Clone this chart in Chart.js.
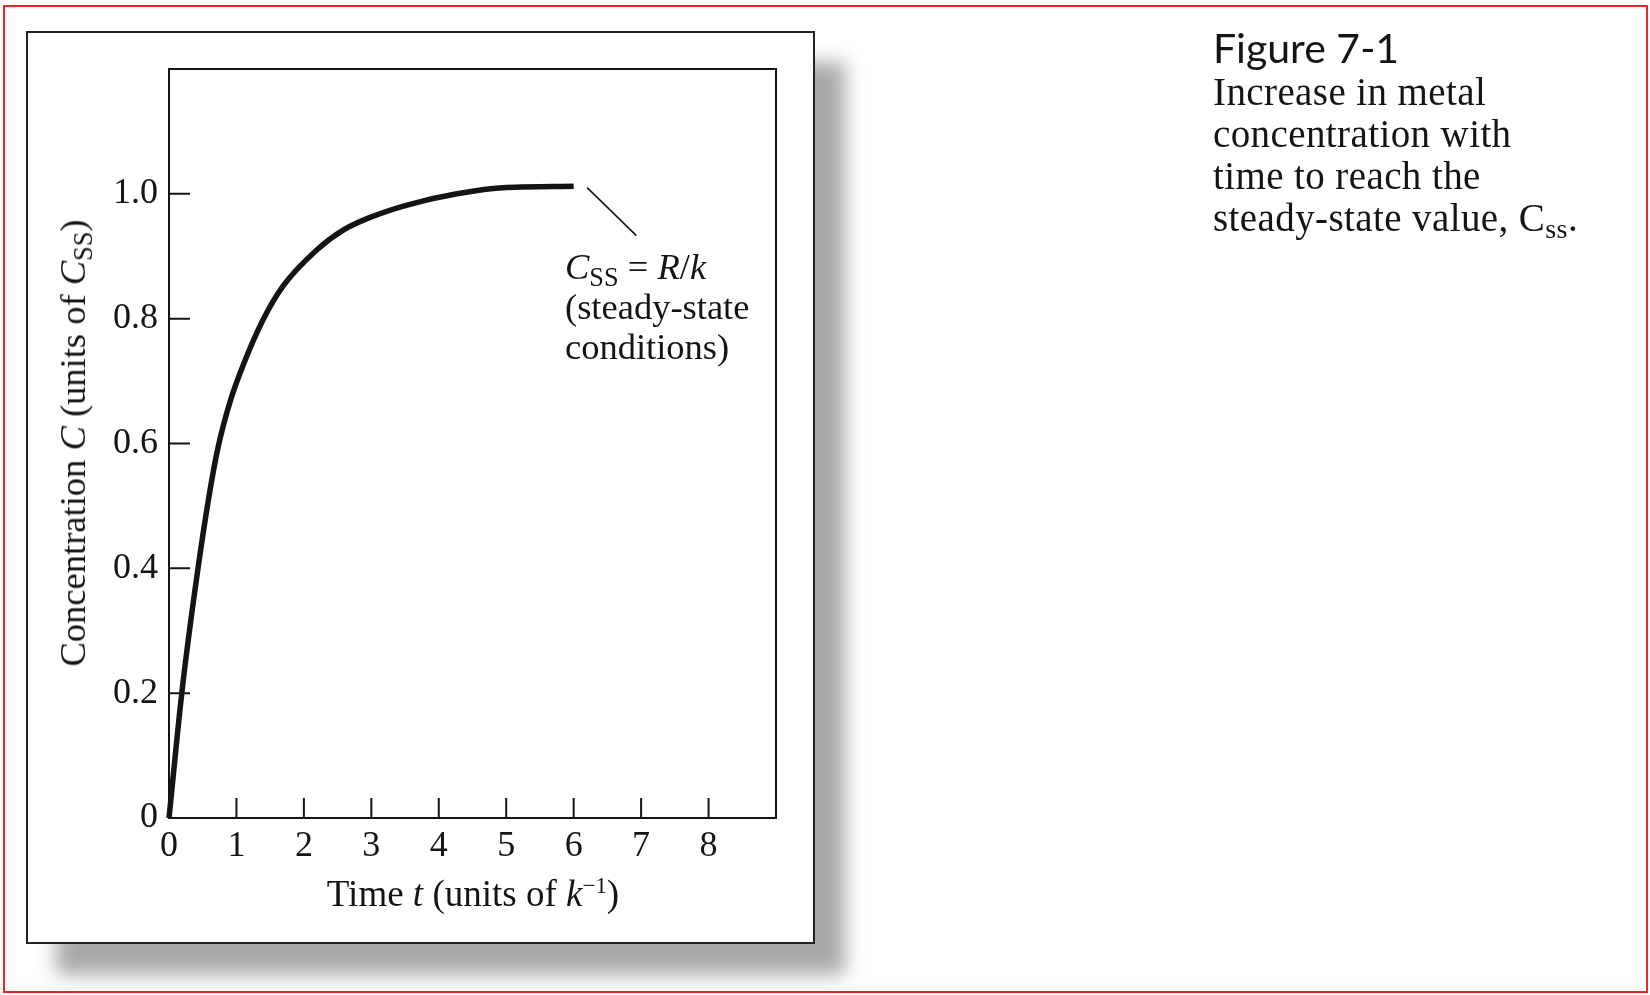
<!DOCTYPE html>
<html>
<head>
<meta charset="utf-8">
<script src="https://cdn.jsdelivr.net/npm/chart.js@4/dist/chart.umd.min.js"></script>
<style>
    body { margin: 0; background: #fff; width: 1650px; height: 995px; overflow: hidden; position: relative; }
    .frame { position: absolute; left: 3px; top: 5px; width: 1641px; height: 984px; border: 2px solid #e8262a; }
    .card { position: absolute; left: 26px; top: 31px; width: 785px; height: 909px; border: 2px solid #222; background: #fff;
            box-shadow: 30px 31px 18px rgba(0, 0, 0, 0.34); }
    #plot { position: absolute; left: 0; top: 0; }
    .serif { position: absolute; font-family: "Liberation Serif", "DejaVu Serif", serif; color: #141414; white-space: nowrap; }
    .ytitle { font-size: 36.5px; line-height: 40px; left: 73px; top: 443px; transform: translate(-50%, -50%) rotate(-90deg); }
    .xtitle { font-size: 37px; line-height: 40px; left: 473px; top: 874px; transform: translateX(-50%); }
    .note { font-size: 36.5px; line-height: 40px; left: 565px; top: 247px; }
    sub { font-size: 0.72em; vertical-align: -0.25em; line-height: 0; }
    sup { font-size: 0.62em; vertical-align: 0.55em; line-height: 0; }
    .fig { position: absolute; left: 1213px; top: 27px; font-family: Lato, "Open Sans", sans-serif; font-size: 41px; line-height: 41px; color: #141414; }
    .caption { font-size: 39px; line-height: 42px; left: 1213px; top: 71px; letter-spacing: 0.4px; }
</style>
</head>
<body>
<div class="frame"></div>
<div class="card"></div>
<canvas id="plot" width="1650" height="995"></canvas>

<div class="serif ytitle">Concentration <i>C</i> (units of <i>C</i><sub>SS</sub>)</div>
<div class="serif xtitle">Time <i>t</i> (units of <i>k</i><sup>−1</sup>)</div>
<div class="serif note"><i>C</i><sub>SS</sub> = <i>R</i>/<i>k</i><br>(steady-state<br>conditions)</div>

<div class="fig">Figure 7-1</div>
<div class="serif caption">Increase in metal<br>concentration with<br>time to reach the<br>steady-state value, C<sub>ss</sub>.</div>

<script>
// curve (t in units of 1/k, C in units of Css)
let timeValues = [0, 0.2, 0.43, 0.6, 0.73, 0.9, 1.08, 1.38, 1.69, 2.19, 2.6, 3.0, 3.53, 4.27, 5.0, 6.0];
let concValues = [0, 0.21, 0.40, 0.52, 0.595, 0.665, 0.72, 0.795, 0.852, 0.91, 0.943, 0.963, 0.982, 1.0, 1.01, 1.012];

// leader line of the Css note
let leaderT = [6.2, 6.93];
let leaderC = [1.01, 0.933];

let xTickValues = [0, 1, 2, 3, 4, 5, 6, 7, 8];
let yTickValues = [0, 0.2, 0.4, 0.6, 0.8, 1.0];
let yTickLabels = ['0', '0.2', '0.4', '0.6', '0.8', '1.0'];

let ink = '#141414';
let tickFont = { family: '"Liberation Serif", serif', size: 36 };

// frame round the plot and the inward tick marks
let boxPlugin = {
    id: 'box',
    afterDraw(chart) {
        let ctx = chart.ctx,
            area = chart.chartArea,
            xs = chart.scales.x,
            ys = chart.scales.y;

        ctx.save();
        ctx.strokeStyle = ink;
        ctx.lineWidth = 2;
        ctx.strokeRect(area.left, area.top, area.right - area.left, area.bottom - area.top);

        ctx.beginPath();
        yTickValues.forEach(function (v) {
            if (v === 0) return;
            let y = ys.getPixelForValue(v);
            ctx.moveTo(area.left, y);
            ctx.lineTo(area.left + 21, y);
        });
        xTickValues.forEach(function (v) {
            if (v === 0) return;
            let x = xs.getPixelForValue(v);
            ctx.moveTo(x, area.bottom);
            ctx.lineTo(x, area.bottom - 20);
        });
        ctx.stroke();
        ctx.restore();
    }
};

let canvas = document.getElementById('plot');
let chart = new Chart(canvas.getContext('2d'), {
    type: 'line',
    data: {
        datasets: [{
            data: timeValues.map(function (t, i) { return { x: t, y: concValues[i] }; }),
            borderColor: ink,
            borderWidth: 5.5,
            pointRadius: 0,
            cubicInterpolationMode: 'monotone',
            clip: false
        }, {
            data: leaderT.map(function (t, i) { return { x: t, y: leaderC[i] }; }),
            borderColor: ink,
            borderWidth: 1.6,
            pointRadius: 0,
            tension: 0
        }]
    },
    plugins: [boxPlugin],
    options: {
        responsive: false,
        animation: false,
        devicePixelRatio: 1,
        layout: { padding: { left: 0, top: 69, right: 874, bottom: 0 } },
        plugins: { legend: { display: false }, tooltip: { enabled: false } },
        scales: {
            x: {
                type: 'linear',
                min: 0,
                max: 9,
                afterFit: function (scale) { scale.height = 177; },
                afterBuildTicks: function (scale) {
                    scale.ticks = xTickValues.map(function (v) { return { value: v }; });
                },
                grid: { display: false, drawTicks: false },
                border: { display: false },
                ticks: {
                    font: tickFont,
                    color: ink,
                    padding: 7,
                    maxRotation: 0,
                    callback: function (v) { return String(v); }
                }
            },
            y: {
                type: 'linear',
                min: 0,
                max: 1.2,
                afterFit: function (scale) { scale.width = 169; },
                afterBuildTicks: function (scale) {
                    scale.ticks = yTickValues.map(function (v) { return { value: v }; });
                },
                grid: { display: false, drawTicks: false },
                border: { display: false },
                ticks: {
                    font: tickFont,
                    color: ink,
                    padding: 11,
                    callback: function (v) {
                        let i = yTickValues.indexOf(v);
                        return i >= 0 ? yTickLabels[i] : '';
                    }
                }
            }
        }
    }
});
</script>
</body>
</html>
